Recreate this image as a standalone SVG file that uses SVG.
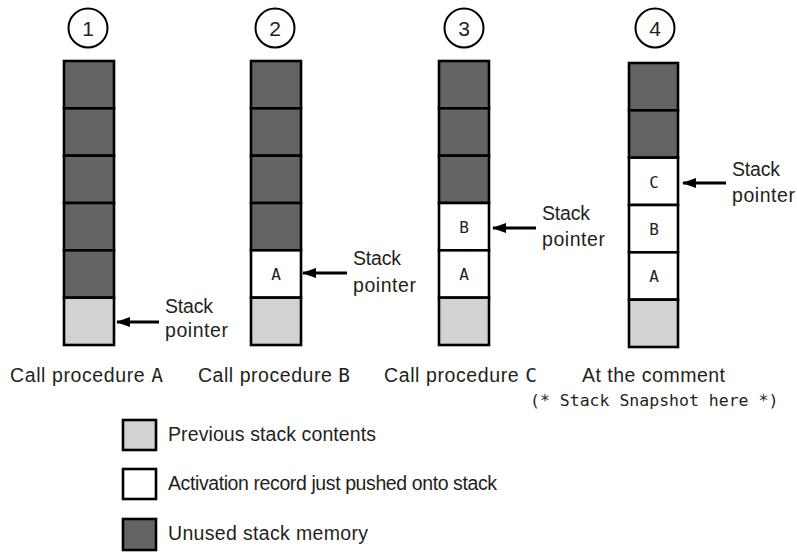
<svg xmlns="http://www.w3.org/2000/svg" width="797" height="554" viewBox="0 0 797 554">
<style>
.dark{fill:#636466;stroke:#000;stroke-width:2.6}
.light{fill:#d1d2d4;stroke:#000;stroke-width:2.6}
.white{fill:#fff;stroke:#000;stroke-width:2.6}
.t{font-family:"Liberation Sans",Arial,sans-serif;font-size:19.5px;fill:#231f20}
.m{font-family:"DejaVu Sans Mono","Liberation Mono",monospace;fill:#231f20}
.cell{font-size:16px;text-anchor:middle}
.num{font-family:"Liberation Sans",Arial,sans-serif;font-size:21px;fill:#231f20;text-anchor:middle}
.circ{fill:#fff;stroke:#000;stroke-width:2}
.arr{stroke:#000;stroke-width:3;fill:none;marker-end:url(#ah)}
</style>
<defs>
<marker id="ah" markerWidth="14" markerHeight="10" refX="13" refY="5" orient="auto" markerUnits="userSpaceOnUse">
<path d="M0,0 L14,5 L0,10 Z" fill="#000"/>
</marker>
</defs>
<rect width="797" height="554" fill="#fff"/>

<g id="col1">
<circle class="circ" cx="88" cy="28" r="19.5"/>
<text class="num" x="88" y="36">1</text>
<rect class="dark" x="64" y="61" width="50" height="47.33"/>
<rect class="dark" x="64" y="108.33" width="50" height="47.33"/>
<rect class="dark" x="64" y="155.67" width="50" height="47.33"/>
<rect class="dark" x="64" y="203" width="50" height="47.33"/>
<rect class="dark" x="64" y="250.33" width="50" height="47.33"/>
<rect class="light" x="64" y="297.67" width="50" height="47.33"/>
<text class="t" x="165" y="313" textLength="48">Stack</text>
<text class="t" x="165" y="337" textLength="63">pointer</text>
<text class="t" x="10" y="382" textLength="153">Call procedure <tspan class="m">A</tspan></text>
</g>

<g id="col2">
<circle class="circ" cx="275" cy="28" r="19.5"/>
<text class="num" x="275" y="36">2</text>
<rect class="dark" x="251" y="61" width="50" height="47.33"/>
<rect class="dark" x="251" y="108.33" width="50" height="47.33"/>
<rect class="dark" x="251" y="155.67" width="50" height="47.33"/>
<rect class="dark" x="251" y="203" width="50" height="47.33"/>
<rect class="white" x="251" y="250.33" width="50" height="47.33"/>
<text class="m cell" x="276" y="280">A</text>
<rect class="light" x="251" y="297.67" width="50" height="47.33"/>
<text class="t" x="353" y="265" textLength="48">Stack</text>
<text class="t" x="353" y="292" textLength="63">pointer</text>
<text class="t" x="198" y="382" textLength="152">Call procedure <tspan class="m">B</tspan></text>
</g>

<g id="col3">
<circle class="circ" cx="464" cy="28" r="19.5"/>
<text class="num" x="464" y="36">3</text>
<rect class="dark" x="439" y="61" width="50" height="47.33"/>
<rect class="dark" x="439" y="108.33" width="50" height="47.33"/>
<rect class="dark" x="439" y="155.67" width="50" height="47.33"/>
<rect class="white" x="439" y="203" width="50" height="47.33"/>
<text class="m cell" x="464" y="233">B</text>
<rect class="white" x="439" y="250.33" width="50" height="47.33"/>
<text class="m cell" x="464" y="280">A</text>
<rect class="light" x="439" y="297.67" width="50" height="47.33"/>
<text class="t" x="542" y="220" textLength="48">Stack</text>
<text class="t" x="542" y="246" textLength="63">pointer</text>
<text class="t" x="384" y="382" textLength="153">Call procedure <tspan class="m">C</tspan></text>
</g>

<g id="col4">
<circle class="circ" cx="655" cy="28" r="19.5"/>
<text class="num" x="655" y="36">4</text>
<rect class="dark" x="629" y="63" width="49" height="47.33"/>
<rect class="dark" x="629" y="110.33" width="49" height="47.33"/>
<rect class="white" x="629" y="157.67" width="49" height="47.33"/>
<text class="m cell" x="654" y="188">C</text>
<rect class="white" x="629" y="205" width="49" height="47.33"/>
<text class="m cell" x="654" y="235">B</text>
<rect class="white" x="629" y="252.33" width="49" height="47.33"/>
<text class="m cell" x="654" y="282">A</text>
<rect class="light" x="629" y="299.67" width="49" height="47.33"/>
<text class="t" x="732" y="176" textLength="48">Stack</text>
<text class="t" x="732" y="202" textLength="63">pointer</text>
<text class="t" x="582" y="382" textLength="143">At the comment</text>
<text class="m" x="530" y="406" font-size="16.5">(* Stack Snapshot here *)</text>
</g>

<g id="connectors">
<line class="arr" x1="159" y1="322" x2="117" y2="322"/>
<line class="arr" x1="347" y1="273" x2="303" y2="273"/>
<line class="arr" x1="536" y1="228" x2="493" y2="228"/>
<line class="arr" x1="726" y1="183" x2="683" y2="183"/>
</g>

<g id="legend">
<rect class="light" x="123" y="420" width="33" height="30"/>
<text class="t" x="168" y="441" textLength="208">Previous stack contents</text>
<rect class="white" x="123" y="469" width="33" height="30"/>
<text class="t" x="168" y="490" textLength="329">Activation record just pushed onto stack</text>
<rect class="dark" x="123" y="519" width="33" height="31"/>
<text class="t" x="168" y="540" textLength="200">Unused stack memory</text>
</g>
</svg>
